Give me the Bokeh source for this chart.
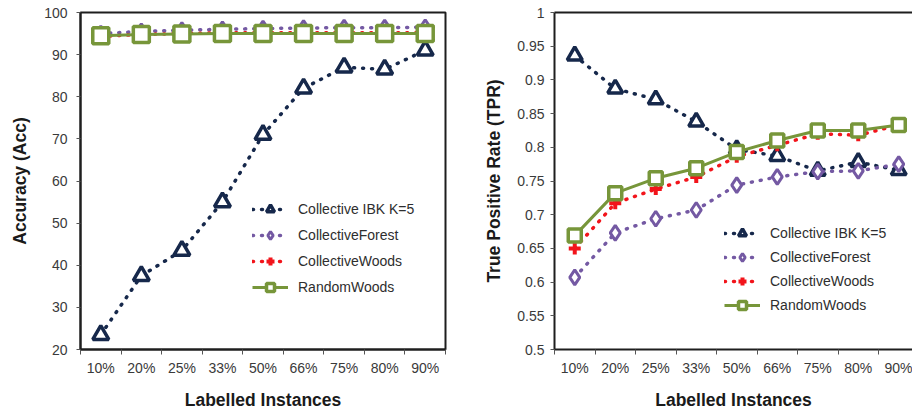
import math
from bokeh.plotting import figure
from bokeh.layouts import row
from bokeh.models import (FixedTicker, Range1d, LinearAxis, Legend, LegendItem,
                          NumeralTickFormatter, CustomJSTickFormatter)
from bokeh.embed import file_html
from bokeh.resources import INLINE

# ---------------- data ----------------
labels = ["10%", "20%", "25%", "33%", "50%", "66%", "75%", "80%", "90%"]
series_names = ["Collective IBK K=5", "CollectiveForest", "CollectiveWoods", "RandomWoods"]

acc_ibk = [23.5, 37.5, 43.5, 55.0, 71.0, 82.0, 87.0, 86.5, 91.0]
acc_forest = [95.0, 95.5, 95.8, 96.0, 96.2, 96.3, 96.4, 96.4, 96.5]
acc_cwoods = [94.3, 94.8, 95.0, 95.2, 95.2, 95.2, 95.2, 95.2, 95.2]
acc_rwoods = [94.5, 94.8, 94.9, 95.0, 95.0, 95.0, 95.0, 95.0, 95.0]

tpr_ibk = [0.936, 0.887, 0.871, 0.838, 0.797, 0.787, 0.765, 0.778, 0.766]
tpr_forest = [0.607, 0.673, 0.694, 0.707, 0.744, 0.756, 0.764, 0.765, 0.775]
tpr_cwoods = [0.650, 0.717, 0.738, 0.756, 0.786, 0.803, 0.820, 0.818, 0.833]
tpr_rwoods = [0.669, 0.732, 0.754, 0.769, 0.793, 0.810, 0.825, 0.825, 0.833]

acc_ticks = [20, 30, 40, 50, 60, 70, 80, 90, 100]
tpr_ticks = [0.5, 0.55, 0.6, 0.65, 0.7, 0.75, 0.8, 0.85, 0.9, 0.95, 1.0]

# ---------------- styles ----------------
NAVY = "#16284b"
PURPLE = "#7459a3"
RED = "#f2141b"
GREEN = "#77963a"
FONT = "Liberation Sans"
DOT = "1 8"
TICK_FS = "14px"
TITLE_FS = "17.5px"
LEG_FS = "14px"

xs = list(range(len(labels)))


def make_fig(width, height, bl, br, yr, xr_end, yticks, yformatter, ylabel,
             ylab_standoff, ytick_out, ytitle_standoff, outline, legend_loc,
             legend_spacing, vals, msize):
    p = figure(width=width, height=height, output_backend="svg", toolbar_location=None,
               x_range=Range1d(-0.5, xr_end), y_range=Range1d(*yr),
               min_border_left=bl, min_border_right=br, min_border_top=12,
               min_border_bottom=62, background_fill_color="white",
               border_fill_color="white")
    p.xgrid.visible = False
    p.ygrid.visible = False

    # x axis
    xa = p.below[0]
    xa.ticker = FixedTicker(ticks=xs, minor_ticks=[i - 0.5 for i in range(len(labels) + 1)])
    xa.formatter = CustomJSTickFormatter(args=dict(labels=labels),
                                         code="return labels[Math.round(tick)] || '';")
    xa.major_tick_line_color = None
    xa.major_tick_out = 5
    xa.major_tick_in = 0
    xa.minor_tick_out = 5
    xa.minor_tick_in = 0
    xa.minor_tick_line_color = "#555555"
    xa.major_label_standoff = 5
    xa.axis_line_color = "#1e1e1e"
    xa.axis_line_width = 2
    xa.major_label_text_font = FONT
    xa.major_label_text_font_size = TICK_FS
    xa.major_label_text_color = "#3a3a3a"
    xa.axis_label = "Labelled Instances"
    xa.axis_label_text_font = FONT
    xa.axis_label_text_font_style = "bold"
    xa.axis_label_text_font_size = TITLE_FS
    xa.axis_label_text_color = "#1a1a1a"
    xa.axis_label_standoff = 11

    ya = p.left[0]
    ya.ticker = FixedTicker(ticks=yticks)
    if yformatter is not None:
        ya.formatter = yformatter
    ya.minor_tick_line_color = None
    ya.major_tick_out = ytick_out
    ya.major_tick_in = 0
    ya.major_tick_line_color = "#555555"
    ya.major_label_standoff = ylab_standoff
    ya.axis_line_color = "#1e1e1e"
    ya.axis_line_width = 2
    ya.major_label_text_font = FONT
    ya.major_label_text_font_size = TICK_FS
    ya.major_label_text_color = "#3a3a3a"
    ya.axis_label = ylabel
    ya.axis_label_text_font = FONT
    ya.axis_label_text_font_style = "bold"
    ya.axis_label_text_font_size = TITLE_FS
    ya.axis_label_text_color = "#1a1a1a"
    ya.axis_label_standoff = ytitle_standoff

    if outline:
        p.outline_line_color = "#1e1e1e"
        p.outline_line_width = 2
    else:
        p.outline_line_color = None
        top = LinearAxis(ticker=FixedTicker(ticks=[]), major_tick_out=0, major_tick_in=0,
                         minor_tick_out=0, minor_tick_in=0, major_label_standoff=0,
                         axis_line_color="#1e1e1e", axis_line_width=2)
        p.add_layout(top, "above")

    ibk, forest, cwoods, rwoods = vals
    items = []
    # Collective IBK
    l1 = p.line(xs, ibk, line_color=NAVY, line_width=3.5, line_dash=DOT, line_cap="round")
    s1 = p.scatter(xs, ibk, marker="triangle", size=msize["tri"], line_color=NAVY,
                   line_width=3.5, fill_color="white")
    items.append(LegendItem(label=series_names[0], renderers=[l1, s1]))
    # CollectiveForest
    l2 = p.line(xs, forest, line_color=PURPLE, line_width=3.5, line_dash=DOT, line_cap="round")
    s2 = p.scatter(xs, forest, marker="diamond", size=msize["dia"],
                   line_color=PURPLE, line_width=3, fill_color="white")
    items.append(LegendItem(label=series_names[1], renderers=[l2, s2]))
    # CollectiveWoods
    l3 = p.line(xs, cwoods, line_color=RED, line_width=3.5, line_dash=DOT, line_cap="round")
    s3 = p.scatter(xs, cwoods, marker="cross", size=msize["cross"], line_color=RED,
                   line_width=4)
    items.append(LegendItem(label=series_names[2], renderers=[l3, s3]))
    # RandomWoods
    l4 = p.line(xs, rwoods, line_color=GREEN, line_width=3)
    s4 = p.scatter(xs, rwoods, marker="square", size=msize["sq"], line_color=GREEN,
                   line_width=3.5, fill_color="white")
    items.append(LegendItem(label=series_names[3], renderers=[l4, s4]))

    legend = Legend(items=items, location=legend_loc, border_line_color=None,
                    background_fill_alpha=0, padding=0, margin=0,
                    spacing=legend_spacing, glyph_width=36, glyph_height=20,
                    label_height=20, label_standoff=10, label_text_font=FONT,
                    label_text_font_size=LEG_FS, label_text_color="#2e2e2e")
    p.add_layout(legend)
    return p


p1 = make_fig(455, 412, 80, 10, (20, 100), 8.5, acc_ticks, None, "Accuracy (Acc)",
              9, 4, 11, True, (172, 52), 6,
              (acc_ibk, acc_forest, acc_cwoods, acc_rwoods),
              dict(tri=16, dia=15, cross=12, sq=16))
p2 = make_fig(457, 412, 99, 0, (0.5, 1.0), -0.5 + 358 / 40.5, tpr_ticks,
              NumeralTickFormatter(format="0.[00]"), "True Positive Rate (TPR)",
              6, 4, 10, False, (170, 34), 4,
              (tpr_ibk, tpr_forest, tpr_cwoods, tpr_rwoods),
              dict(tri=15, dia=15, cross=12, sq=13))

layout = row(p1, p2)
open("out.html", "w").write(file_html(layout, INLINE))
